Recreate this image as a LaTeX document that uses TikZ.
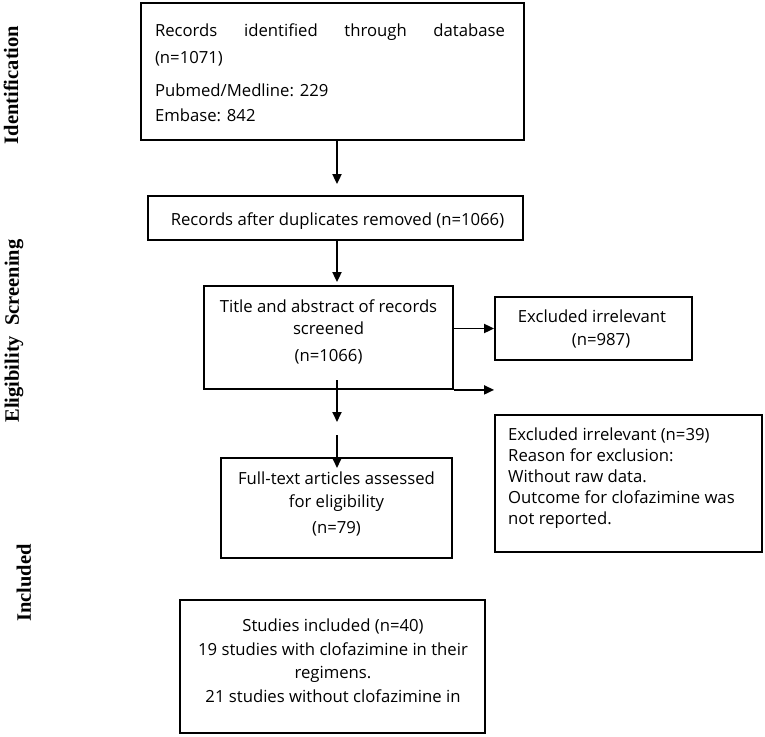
\documentclass[tikz,border=0pt]{standalone}
\usepackage{fontspec}
\setmainfont{Open Sans}
\newfontfamily\sidefont{Liberation Serif}
\usetikzlibrary{arrows.meta}
\tikzset{
  box/.style={draw, line width=1.8pt, inner sep=0pt},
  txt/.style={inner sep=0pt, font=\fontsize{16.7}{22}\selectfont},
  side/.style={inner sep=0pt, rotate=90, font=\sidefont\bfseries\fontsize{20.5}{24}\selectfont},
  arr/.style={line width=1.8pt, -{Triangle[length=10pt,width=9pt]}},
}
\begin{document}
\begin{tikzpicture}[x=1pt,y=-1pt]
\useasboundingbox (0,0) rectangle (765,736);
% boxes
\node[box, minimum width=383pt, minimum height=137pt] (b1) at (332.5,71.5) {};
\node[box, minimum width=375pt, minimum height=44pt] (b2) at (335.5,218) {};
\node[box, minimum width=249pt, minimum height=103pt] (b3) at (328.5,337.5) {};
\node[box, minimum width=197pt, minimum height=63pt] (b4) at (593.5,328.5) {};
\node[box, minimum width=231pt, minimum height=100pt] (b5) at (336.5,508) {};
\node[box, minimum width=267pt, minimum height=137pt] (b6) at (628.5,483.5) {};
\node[box, minimum width=305pt, minimum height=133pt] (b7) at (332.5,666.5) {};
% texts
\node[txt, align=left] (t1) at (330,72.5) {\makebox[350pt][s]{Records\hfill identified\hfill through\hfill database}\\[5pt](n=1071)\\[11pt]Pubmed/Medline: 229\\[3pt]Embase: 842};
\node[txt] (t2) at (337.5,221.5) {Records after duplicates removed (n=1066)};
\node[txt, align=center] (t3) at (328.5,331.5) {Title and abstract of records\\screened\\[5pt](n=1066)};
\node[txt, align=center] (t4) at (592,328.5) {Excluded irrelevant\\[1pt]\hspace*{18pt}(n=987)};
\node[txt, align=center] (t5) at (336.5,503.5) {Full-text articles assessed\\[1pt]for eligibility\\[4pt](n=79)};
\node[txt, align=left, anchor=west] (t6) at (508,478.5) {Excluded irrelevant (n=39)\\[-1pt]Reason for exclusion:\\[-1pt]Without raw data.\\[-1pt]Outcome for clofazimine was\\[-1pt]not reported.};
\node[txt, align=center] (t7) at (333,660.5) {Studies included (n=40)\\[2pt]19 studies with clofazimine in their\\[1pt]regimens.\\[2pt]21 studies without clofazimine in};
% side labels
\node[side] (s1) at (11,85) {Identification};
\node[side] (s2) at (14,331) {Eligibility\ \ Screening};
\node[side] (s3) at (24,583) {Included};
% helper coordinates
\coordinate (cx) at (337,0);
\coordinate (d0) at (337,380);
\coordinate (d1) at (337,422);
\coordinate (d2) at (337,435);
\coordinate (d3) at (337,468);
% connectors
\draw[arr, shorten >=11pt] (b1.south -| cx) -- (b2.north -| cx);
\draw[arr, shorten >=3pt] (b2.south -| cx) -- (b3.north -| cx);
\draw[arr] (b4.west -| b3.east) -- (b4.west);
\draw[arr] (b3.south east) -- (b3.south east -| b4.west);
\draw[arr] (d0) -- (d1);
\draw[arr] (d2) -- (d3);
\end{tikzpicture}
\end{document}
